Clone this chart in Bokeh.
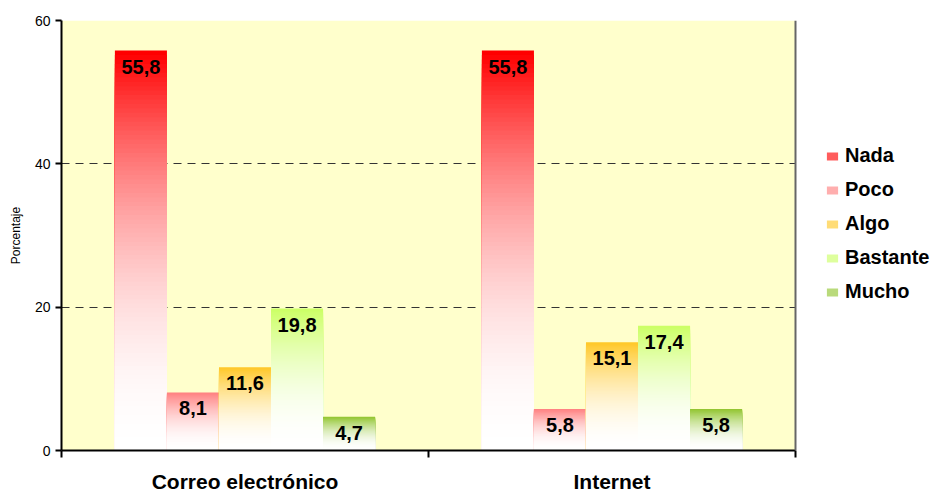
import numpy as np
from bokeh.plotting import figure
from bokeh.models import (Range1d, FixedTicker, Span, Legend, LegendItem,
                          ColumnDataSource, BoxAnnotation)
from bokeh.core.properties import value
from bokeh.embed import file_html
from bokeh.resources import INLINE

# ---- data ----
categories = ["Correo electrónico", "Internet"]
series = ["Nada", "Poco", "Algo", "Bastante", "Mucho"]
nada = [55.8, 55.8]
poco = [8.1, 5.8]
algo = [11.6, 15.1]
bastante = [19.8, 17.4]
mucho = [4.7, 5.8]
y_ticks = [0, 20, 40, 60]

values = [nada, poco, algo, bastante, mucho]
colors = ["#FF0000", "#FF8080", "#FFC829", "#CCFF66", "#92C530"]

FONT = "Liberation Sans"
N = 90          # gradient slices per bar
BAR_W = 0.1418  # bar width in category units
X_END = 2.3733  # room on the right of the plot area for the legend


def mix(c, t):
    rgb = [int(c[i:i + 2], 16) for i in (1, 3, 5)]
    return "#%02x%02x%02x" % tuple(int(round(255 + (v - 255) * t)) for v in rgb)


p = figure(frame_width=871, frame_height=430,
           x_range=Range1d(0, X_END), y_range=Range1d(0, 60),
           output_backend="svg", toolbar_location=None,
           min_border_left=61, min_border_top=20, min_border_right=0,
           min_border_bottom=0)
p.background_fill_color = "white"
p.border_fill_color = "white"
p.outline_line_color = None

# plot-area background
p.add_layout(BoxAnnotation(left=0, right=len(categories), bottom=y_ticks[0], top=y_ticks[-1],
                           fill_color="#FFFFCC", fill_alpha=1, line_color=None,
                           level="image"))

# grid (limited to the plot area)
p.xgrid.grid_line_color = None
grid_ok = True
try:
    p.ygrid.cross_bounds = (0, len(categories))
except Exception:
    grid_ok = False
if grid_ok:
    p.ygrid.ticker = FixedTicker(ticks=y_ticks[1:])
    p.ygrid.grid_line_color = "#333333"
    p.ygrid.grid_line_dash = "8 6"
    p.ygrid.grid_line_width = 1
else:
    p.ygrid.grid_line_color = None
    p.segment(x0=[0] * 3, x1=[len(categories)] * 3, y0=y_ticks[1:], y1=y_ticks[1:],
              line_color="#333333", line_dash="8 6", line_width=1)

legend_items = []
lab_x, lab_y, lab_t = [], [], []
for si, (name, vals, col) in enumerate(zip(series, values, colors)):
    d = dict(left=[], right=[], top=[], bottom=[], color=[])
    for ci, v in enumerate(vals):
        xc = ci + 0.5 + (si - 2) * BAR_W
        for k in range(N - 1, -1, -1):
            frac = (k + 1) / N
            d["left"].append(xc - BAR_W / 2)
            d["right"].append(xc + BAR_W / 2)
            d["top"].append(v * frac)
            d["bottom"].append(0)
            d["color"].append(mix(col, frac ** 2))
        lab_x.append(xc)
        lab_y.append(v)
        lab_t.append(f"{v:.1f}".replace(".", ","))
    r = p.quad(left="left", right="right", top="top", bottom="bottom",
               fill_color="color", line_color=None, source=ColumnDataSource(d))
    legend_items.append(LegendItem(label=name, renderers=[r], index=int(0.2 * N)))

p.text(x=lab_x, y=lab_y, text=lab_t, text_align="center", text_baseline="top",
       y_offset=9, text_font=value(FONT), text_font_style="bold",
       text_font_size="20px", text_color="black")

# right border of the plot area
p.add_layout(Span(location=len(categories), dimension="height",
                  line_color="#666666", line_width=2))

# x axis
p.xaxis.bounds = (0, len(categories))
p.xaxis.ticker = FixedTicker(ticks=[0.5, 1.5], minor_ticks=[0, 1, 2])
p.xaxis.major_label_overrides = {0.5: categories[0], 1.5: categories[1]}
p.xaxis.major_tick_out = 0
p.xaxis.major_tick_in = 0
p.xaxis.minor_tick_out = 7
p.xaxis.minor_tick_in = 0
p.xaxis.minor_tick_line_color = "black"
p.xaxis.minor_tick_line_width = 2
p.xaxis.axis_line_color = "black"
p.xaxis.axis_line_width = 2
p.xaxis.major_label_standoff = 12
p.xaxis.major_label_text_font = FONT
p.xaxis.major_label_text_font_size = "21px"
p.xaxis.major_label_text_font_style = "bold"
p.xaxis.major_label_text_color = "black"

# y axis
p.yaxis.ticker = FixedTicker(ticks=y_ticks, minor_ticks=[])
p.yaxis.axis_line_color = "black"
p.yaxis.axis_line_width = 2
p.yaxis.major_tick_out = 6
p.yaxis.major_tick_in = 0
p.yaxis.major_tick_line_width = 2
p.yaxis.major_label_standoff = 5
p.yaxis.major_label_text_font = FONT
p.yaxis.major_label_text_font_size = "14px"
p.yaxis.major_label_text_color = "black"
p.yaxis.axis_label = "Porcentaje"
p.yaxis.axis_label_text_font = FONT
p.yaxis.axis_label_text_font_size = "12px"
p.yaxis.axis_label_text_font_style = "normal"
p.yaxis.axis_label_text_color = "black"
p.yaxis.axis_label_standoff = 9

legend = Legend(items=legend_items, location=(764, 147), orientation="vertical",
                label_text_font=FONT, label_text_font_size="20px",
                label_text_font_style="bold", label_text_color="black",
                glyph_width=14, glyph_height=10, label_standoff=6,
                label_height=22, spacing=11, padding=0, margin=0,
                border_line_color=None, background_fill_alpha=0)
p.add_layout(legend)

open("out.html", "w").write(file_html(p, INLINE))
